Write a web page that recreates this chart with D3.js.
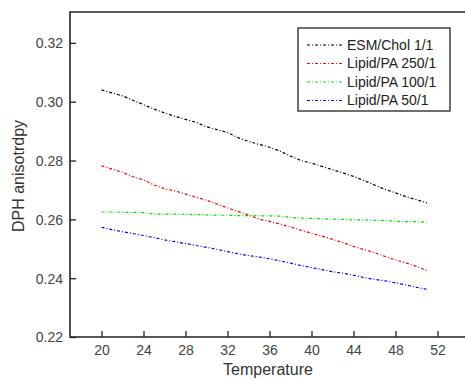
<!DOCTYPE html>
<html>
<head>
<meta charset="utf-8">
<script src="https://cdn.jsdelivr.net/npm/d3@7"></script>
<style>
  html, body { margin: 0; padding: 0; background: #fff; }
  svg { display: block; }
  text { font-family: "Liberation Sans", Arial, sans-serif; }
</style>
</head>
<body>
<svg id="chart" width="465" height="380"></svg>
<script>
// Temperature (°C) sampled once per degree
const temperature = [20,21,22,23,24,25,26,27,28,29,30,31,32,33,34,35,36,37,38,39,40,41,42,43,44,45,46,47,48,49,50,51];

// DPH anisotropy for each sample
const esmChol = [0.3040,0.3030,0.3020,0.3005,0.2990,0.2975,0.2962,0.2950,0.2940,0.2930,0.2915,0.2905,0.2895,0.2878,0.2865,0.2855,
                 0.2845,0.2832,0.2815,0.2800,0.2791,0.2780,0.2769,0.2758,0.2746,0.2732,0.2717,0.2702,0.2690,0.2677,0.2667,0.2656];
const lipidPA250 = [0.2782,0.2771,0.2760,0.2745,0.2734,0.2717,0.2704,0.2697,0.2686,0.2675,0.2665,0.2652,0.2639,0.2627,0.2615,0.2601,
                    0.2593,0.2584,0.2574,0.2563,0.2553,0.2543,0.2532,0.2521,0.2508,0.2497,0.2487,0.2474,0.2462,0.2452,0.2440,0.2426];
const lipidPA100 = [0.2625,0.2625,0.2624,0.2624,0.2623,0.2618,0.2618,0.2618,0.2617,0.2616,0.2615,0.2614,0.2614,0.2613,0.2613,0.2612,
                    0.2612,0.2611,0.2607,0.2604,0.2603,0.2602,0.2601,0.2600,0.2598,0.2598,0.2597,0.2596,0.2593,0.2592,0.2592,0.2591];
const lipidPA50 = [0.2573,0.2565,0.2558,0.2552,0.2545,0.2538,0.2530,0.2524,0.2518,0.2511,0.2505,0.2498,0.2490,0.2483,0.2477,0.2472,
                   0.2466,0.2459,0.2451,0.2443,0.2436,0.2429,0.2422,0.2417,0.2410,0.2402,0.2396,0.2391,0.2384,0.2377,0.2369,0.2362];

const seriesNames = ["ESM/Chol 1/1", "Lipid/PA 250/1", "Lipid/PA 100/1", "Lipid/PA 50/1"];
const seriesColors = ["#000000", "#ff0000", "#00e000", "#0000ff"];
const seriesValues = [esmChol, lipidPA250, lipidPA100, lipidPA50];

const xTicks = [20,24,28,32,36,40,44,48,52];
const yTicks = [0.22,0.24,0.26,0.28,0.30,0.32];

const svg = d3.select("#chart");
const plotLeft = 70, plotTop = 12, plotRight = 470, plotBottom = 337;

const x = d3.scaleLinear().domain([17, 17 + (plotRight - plotLeft) / 10.5]).range([plotLeft, plotRight]);
const y = d3.scaleLinear().domain([0.22, 0.3305]).range([plotBottom, plotTop]);

// Axes with ticks pointing into the plot
const xAxis = svg.append("g")
  .attr("transform", `translate(0,${plotBottom})`)
  .call(d3.axisTop(x).tickValues(xTicks).tickSize(6).tickFormat(d3.format("d")));
xAxis.select(".domain").remove();
xAxis.selectAll("line").attr("stroke", "#222").attr("stroke-width", 1.3);
xAxis.selectAll("text")
  .attr("y", 18).attr("dy", "0")
  .attr("fill", "#444").attr("font-size", 14);

const yAxis = svg.append("g")
  .attr("transform", `translate(${plotLeft},0)`)
  .call(d3.axisRight(y).tickValues(yTicks).tickSize(6).tickFormat(d3.format(".2f")));
yAxis.select(".domain").remove();
yAxis.selectAll("line").attr("stroke", "#222").attr("stroke-width", 1.3);
yAxis.selectAll("text")
  .attr("x", -7).attr("dy", "0.35em")
  .attr("text-anchor", "end")
  .attr("fill", "#444").attr("font-size", 14);

// Frame: left, top and bottom edges
svg.append("path")
  .attr("d", `M${plotRight},${plotTop}H${plotLeft}V${plotBottom}H${plotRight}`)
  .attr("fill", "none").attr("stroke", "#222").attr("stroke-width", 1.6);

// Data lines (dash-dot)
const line = d3.line()
  .x((d, i) => x(temperature[i]))
  .y(d => y(d));

seriesValues.forEach((vals, k) => {
  svg.append("path")
    .datum(vals)
    .attr("d", line)
    .attr("fill", "none")
    .attr("stroke", seriesColors[k])
    .attr("stroke-width", 1.2)
    .attr("stroke-dasharray", "3,2,1,2");
});

// Axis titles
svg.append("text")
  .attr("x", 268).attr("y", 375)
  .attr("text-anchor", "middle")
  .attr("font-size", 16).attr("fill", "#333")
  .text("Temperature");

svg.append("text")
  .attr("transform", "translate(24,176) rotate(-90)")
  .attr("text-anchor", "middle")
  .attr("font-size", 16).attr("fill", "#333")
  .text("DPH anisotrdpy");

// Legend
const legend = svg.append("g");
legend.append("rect")
  .attr("x", 298).attr("y", 28).attr("width", 152).attr("height", 83)
  .attr("fill", "#fff").attr("stroke", "#222").attr("stroke-width", 1.3);

seriesNames.forEach((name, k) => {
  const ly = 45 + k * 18.5;
  legend.append("line")
    .attr("x1", 307).attr("x2", 342).attr("y1", ly).attr("y2", ly)
    .attr("stroke", seriesColors[k]).attr("stroke-width", 1.2)
    .attr("stroke-dasharray", "3,2,1,2");
  legend.append("text")
    .attr("x", 347).attr("y", ly).attr("dy", "0.35em")
    .attr("font-size", 14).attr("fill", "#222")
    .text(name);
});
</script>
</body>
</html>
